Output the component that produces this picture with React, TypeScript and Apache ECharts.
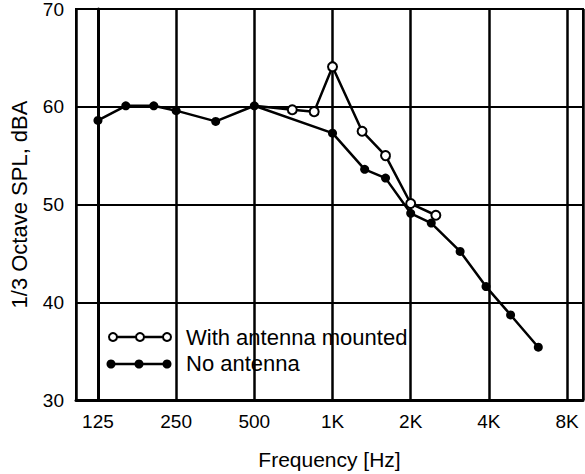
import React, { useEffect, useRef } from "react";
import * as echarts from "echarts";

// Frequencies (Hz) and 1/3 octave SPL (dBA)
const freqNoAntenna = [125, 160, 205, 250, 355, 500, 1000, 1330, 1600, 2000, 2400, 3100, 3900, 4850, 6200];
const splNoAntenna = [58.6, 60.1, 60.1, 59.6, 58.5, 60.1, 57.3, 53.6, 52.7, 49.1, 48.1, 45.2, 41.6, 38.7, 35.4];

const freqWithAntenna = [500, 700, 850, 1000, 1300, 1600, 2000, 2500];
const splWithAntenna = [60.1, 59.7, 59.5, 64.1, 57.5, 55.0, 50.1, 48.9];

const tickFreqs = [125, 250, 500, 1000, 2000, 4000, 8000];
const tickLabels = ["125", "250", "500", "1K", "2K", "4K", "8K"];

const yTicks = [30, 40, 50, 60, 70];

const FONT = "'Liberation Sans', Arial, Helvetica, sans-serif";
const BASE = tickFreqs[0];
const oct = (f: number) => Math.log2(f / BASE);

export default function App() {
  const ref = useRef<HTMLDivElement>(null);
  useEffect(() => {
    if (!ref.current) return;
    const chart = echarts.init(ref.current, null, { renderer: "svg" });
    const labelFor = (v: number) => {
      for (let i = 0; i < tickFreqs.length; i++) {
        if (Math.abs(oct(tickFreqs[i]) - v) < 1e-6) return tickLabels[i];
      }
      return "";
    };
    const withData = freqWithAntenna.map((f, i) =>
      i === 0
        ? { value: [oct(f), splWithAntenna[i]], symbol: "none" }
        : { value: [oct(f), splWithAntenna[i]] }
    );
    const noData = freqNoAntenna.map((f, i) => [oct(f), splNoAntenna[i]]);

    chart.setOption({
      animation: false,
      backgroundColor: "#ffffff",
      textStyle: { fontFamily: FONT },
      grid: {
        left: 76,
        right: 2,
        top: 9,
        bottom: 74,
        containLabel: false,
        outerBoundsMode: "none",
        show: true,
        borderColor: "#000",
        borderWidth: 2,
        backgroundColor: "transparent",
      },
      xAxis: {
        type: "value",
        min: -0.281,
        max: 6.204,
        minInterval: 1,
        maxInterval: 1,
        name: "Frequency [Hz]",
        nameLocation: "middle",
        nameGap: 49,
        nameTextStyle: { fontSize: 21, color: "#000", fontFamily: FONT },
        axisLine: { show: true, lineStyle: { color: "#000", width: 3 } },
        axisTick: { show: false },
        axisLabel: {
          fontSize: 19,
          color: "#000",
          margin: 12,
          fontFamily: FONT,
          showMinLabel: false,
          showMaxLabel: false,
          formatter: (v: number) => labelFor(v),
        },
        splitLine: { show: true, lineStyle: { color: "#000", width: 2.5 } },
      },
      yAxis: {
        type: "value",
        min: yTicks[0],
        max: yTicks[yTicks.length - 1],
        interval: 10,
        name: "1/3 Octave SPL, dBA",
        nameLocation: "middle",
        nameGap: 46,
        nameTextStyle: { fontSize: 22, color: "#000", fontFamily: FONT },
        axisLine: { show: true, lineStyle: { color: "#000", width: 3 } },
        axisTick: { show: false },
        axisLabel: { fontSize: 19, color: "#000", margin: 12, fontFamily: FONT },
        splitLine: { show: true, lineStyle: { color: "#000", width: 2 } },
      },
      series: [
        {
          name: "No antenna",
          type: "line",
          data: noData,
          symbol: "circle",
          symbolSize: 9,
          showAllSymbol: true,
          lineStyle: { color: "#000", width: 2.5 },
          itemStyle: { color: "#000", borderColor: "#000", borderWidth: 0 },
          z: 3,
        },
        {
          name: "With antenna mounted",
          type: "line",
          data: withData,
          symbol: "circle",
          symbolSize: 9,
          showAllSymbol: true,
          lineStyle: { color: "#000", width: 2.5 },
          itemStyle: { color: "#fff", borderColor: "#000", borderWidth: 2 },
          z: 4,
        },
      ],
      graphic: [
        { type: "line", shape: { x1: 113, y1: 337, x2: 167, y2: 337 }, style: { stroke: "#000", lineWidth: 2.5 }, z: 10 },
        { type: "circle", shape: { cx: 113, cy: 337, r: 4 }, style: { fill: "#fff", stroke: "#000", lineWidth: 2 }, z: 11 },
        { type: "circle", shape: { cx: 140, cy: 337, r: 4 }, style: { fill: "#fff", stroke: "#000", lineWidth: 2 }, z: 11 },
        { type: "circle", shape: { cx: 167, cy: 337, r: 4 }, style: { fill: "#fff", stroke: "#000", lineWidth: 2 }, z: 11 },
        { type: "text", x: 186, y: 337, style: { text: "With antenna mounted", fill: "#000", font: `22px ${FONT}`, verticalAlign: "middle" }, z: 11 },
        { type: "line", shape: { x1: 111, y1: 364, x2: 167, y2: 364 }, style: { stroke: "#000", lineWidth: 2.5 }, z: 10 },
        { type: "circle", shape: { cx: 111, cy: 364, r: 4.5 }, style: { fill: "#000" }, z: 11 },
        { type: "circle", shape: { cx: 139, cy: 364, r: 4.5 }, style: { fill: "#000" }, z: 11 },
        { type: "circle", shape: { cx: 167, cy: 364, r: 4.5 }, style: { fill: "#000" }, z: 11 },
        { type: "text", x: 186, y: 363, style: { text: "No antenna", fill: "#000", font: `22px ${FONT}`, verticalAlign: "middle" }, z: 11 },
      ],
    });
    return () => chart.dispose();
  }, []);
  return (
    <div
      ref={ref}
      style={{ position: "absolute", left: 0, top: 0, width: 585, height: 474, background: "#fff" }}
    />
  );
}
